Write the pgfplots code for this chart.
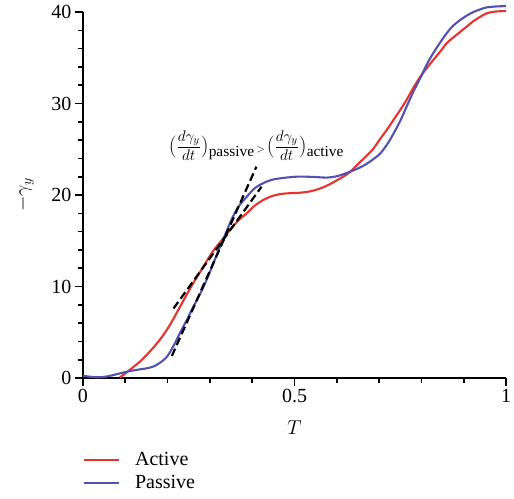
\RequirePackage{fix-cm}
\documentclass[border=0pt]{standalone}
\usepackage{amsmath}
\usepackage{fontspec}
\setmainfont{Liberation Serif}
\usepackage{pgfplots}
\pgfplotsset{compat=1.18}
\definecolor{cred}{RGB}{231,50,45}
\definecolor{cblue}{RGB}{82,82,178}
\begin{document}
\begin{tikzpicture}[font=\fontsize{20}{24}\selectfont]
\begin{axis}[
  scale only axis,
  width=423pt, height=366pt,
  xmin=0, xmax=1, ymin=0, ymax=40,
  clip=false,
  axis x line*=bottom, axis y line*=left,
  axis line style={-, line width=1.9pt},
  xtick={0,0.5,1}, xticklabels={0,0.5,1},
  ytick={0,10,20,30,40},
  minor x tick num=4, minor y tick num=4,
  tick align=outside,
  major tick length=8pt, minor tick length=5pt,
  every tick/.style={black, line width=1.6pt},
  /pgf/number format/assume math mode=true,
  xlabel={$T$}, ylabel={$-\gamma_y$},
  every axis x label/.style={at={(axis description cs:0.5,-0.137)}, anchor=center},
  every axis y label/.style={at={(axis description cs:-0.137,0.5)}, rotate=90, anchor=center},
  legend style={at={(axis description cs:0,-0.2)}, anchor=north west, draw=none, fill=none,
    inner sep=0pt, outer sep=0pt,
    row sep=5pt, column sep=15pt,
    nodes={inner sep=0pt, anchor=west, text height=14pt, text depth=4pt}},
  legend cell align=left,
  legend image code/.code={\draw[#1] (0pt,0pt) -- (35pt,0pt);},
]
\addplot[cred, line width=2.1pt, smooth] coordinates {
(0.087,0.05) (0.1,0.5) (0.119,1.2) (0.135,1.8) (0.15,2.5) (0.165,3.25) (0.182,4.2)
(0.198,5.25) (0.213,6.4) (0.229,7.75) (0.245,9.1) (0.261,10.4) (0.277,11.6) (0.292,12.75)
(0.308,13.9) (0.327,15.0) (0.348,16.2) (0.367,17.2) (0.387,18.0) (0.405,18.8) (0.426,19.45)
(0.445,19.85) (0.466,20.1) (0.49,20.2) (0.513,20.25) (0.537,20.4) (0.56,20.7) (0.58,21.1)
(0.6,21.6) (0.615,22.0) (0.631,22.5) (0.655,23.6) (0.671,24.3) (0.687,25.1) (0.702,26.1)
(0.718,27.1) (0.734,28.2) (0.75,29.3) (0.765,30.4) (0.782,31.8) (0.8,33.1) (0.815,34.0)
(0.828,34.75) (0.845,35.7) (0.86,36.6) (0.875,37.2) (0.891,37.8) (0.907,38.4) (0.923,39.0)
(0.94,39.5) (0.954,39.85) (0.975,40.05) (1.0,40.1)
};
\addlegendentry{Active}
\addplot[cblue, line width=2.1pt, smooth] coordinates {
(0,0.25) (0.02,0.12) (0.04,0.08) (0.06,0.2) (0.087,0.5) (0.11,0.75) (0.135,0.95) (0.15,1.05)
(0.166,1.25) (0.18,1.6) (0.198,2.3) (0.214,3.5) (0.229,4.9) (0.245,6.3) (0.261,7.8)
(0.277,9.2) (0.292,10.7) (0.308,12.5) (0.324,14.35) (0.34,16.1) (0.352,17.4) (0.367,18.7)
(0.387,19.8) (0.405,20.7) (0.426,21.3) (0.45,21.7) (0.48,21.9) (0.505,22.0) (0.529,22.0)
(0.555,21.95) (0.576,21.9) (0.6,22.05) (0.623,22.4) (0.645,22.8) (0.663,23.2) (0.68,23.7)
(0.702,24.5) (0.72,25.6) (0.734,26.7) (0.75,28.1) (0.765,29.65) (0.78,31.2) (0.797,32.75)
(0.812,34.2) (0.828,35.5) (0.845,36.7) (0.86,37.7) (0.875,38.5) (0.891,39.1) (0.907,39.6)
(0.923,40.0) (0.94,40.3) (0.954,40.5) (0.975,40.6) (1.0,40.65)
};
\addlegendentry{Passive}
\addplot[black, line width=2.2pt, dash pattern=on 8pt off 4pt, forget plot] coordinates {(0.21,2.4) (0.41,23.1)};
\addplot[black, line width=2.2pt, dash pattern=on 8pt off 4pt, forget plot] coordinates {(0.214,7.6) (0.422,20.9)};
\node[anchor=center, font=\fontsize{22}{26}\selectfont] at (axis cs:0.41,25.4)
  {$(\tfrac{d\gamma_y}{dt})_{\text{passive}}{\scriptscriptstyle\,>\,}(\tfrac{d\gamma_y}{dt})_{\text{active}}$};
\end{axis}
\pgfresetboundingbox
\path[use as bounding box] (-83pt,-120pt) rectangle (431pt,378pt);
\end{tikzpicture}
\end{document}
